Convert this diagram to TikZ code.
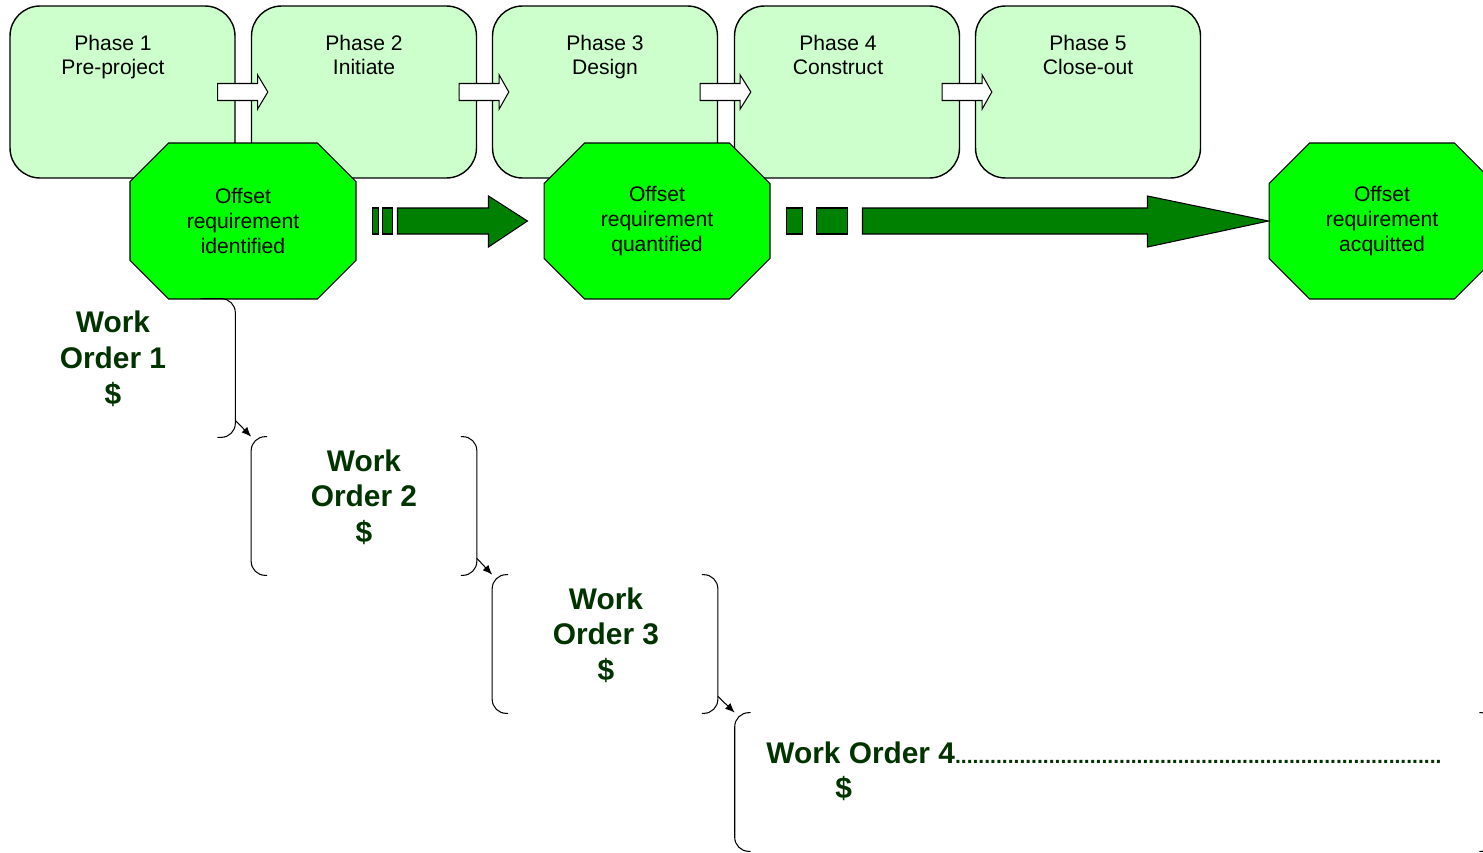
\documentclass[tikz,border=0pt]{standalone}
\usepackage{fontspec}
\setmainfont{Liberation Sans}
\usetikzlibrary{calc,positioning,shapes.misc,arrows.meta}

\definecolor{phasegreen}{HTML}{CCFFCC}
\definecolor{brightgreen}{HTML}{00FF00}
\definecolor{arrowgreen}{HTML}{008000}
\definecolor{darkgreen}{HTML}{003300}

\tikzset{
	phase/.style={draw, line width=0.8pt, fill=phasegreen, rounded corners=0.6cm, minimum width=4.5cm, minimum height=3.44cm},
	phasetext/.style={anchor=north, align=center, inner sep=0pt, font=\fontsize{12}{13.6}\selectfont},
	phasearrow/.style={draw, line width=0.6pt, fill=white},
	offset/.style={chamfered rectangle, chamfered rectangle xsep=0.9cm, draw, line width=0.6pt, fill=brightgreen, minimum width=4.52cm, minimum height=3.12cm, align=center, inner sep=0pt, font=\fontsize{12}{14}\selectfont},
	flowarrow/.style={draw, line width=0.6pt, fill=arrowgreen},
	workorder/.style={minimum width=4.5cm, minimum height=2.76cm, inner sep=0pt},
	wotext/.style={anchor=north, align=center, inner sep=0pt, text=darkgreen, font=\fontsize{17}{20.4}\selectfont\bfseries},
	bracket/.style={line width=0.6pt, rounded corners=0.28cm},
	woarrow/.style={line width=0.6pt, -{Latex[length=5.5pt,width=4.5pt]}}
}

\begin{document}
\begin{tikzpicture}[x=0.02cm,y=-0.02cm]

	% frame
	\useasboundingbox (0,0) rectangle (1483,852);
	\clip (0,0) rectangle (1483,852);

	% phases
	\node[phase] (p1) at (122.5,92) {};
	\node[phase] (p2) at (364,92) {};
	\node[phase] (p3) at (605,92) {};
	\node[phase] (p4) at (847,92) {};
	\node[phase] (p5) at (1088,92) {};

	% phase names
	\node[phasetext] (p1t) at (113,35) {Phase 1\\Pre-project};
	\node[phasetext] (p2t) at (364,35) {Phase 2\\Initiate};
	\node[phasetext] (p3t) at (605,35) {Phase 3\\Design};
	\node[phasetext] (p4t) at (838,35) {Phase 4\\Construct};
	\node[phasetext] (p5t) at (1088,35) {Phase 5\\Close-out};

	% phase arrows
	\foreach \a/\b in {p1/p2,p2/p3,p3/p4,p4/p5}
		\draw[phasearrow] ($(\a.east)+(-18,-8.5)$) -- ++(40,0) -- ++(0,-8.5) -- ($(\b.west)+(17,0)$) -- ($(\a.east)+(22,17)$) -- ++(0,-8.5) -- ++(-40,0) -- cycle;

	% offset requirement
	\node[offset] (o1) at (243,221) {Offset\\requirement\\identified};
	\node[offset] (o2) at (657,221) {Offset\\requirement\\quantified};
	\node[offset] (o3) at (1382,221) {Offset\\requirement\\acquitted};

	% flow o1 to o2
	\draw[flowarrow] ($(o1.east)+(16,-13)$) rectangle ++(6,26);
	\draw[flowarrow] ($(o1.east)+(26,-13)$) rectangle ++(10,26);
	\draw[flowarrow] ($(o1.east)+(41,-13)$) -- ($(o2.west)+(-55,-13)$) -- ++(0,-12) -- ($(o2.west)+(-16,0)$) -- ($(o2.west)+(-55,26)$) -- ++(0,-13) -- ($(o1.east)+(41,13)$) -- cycle;

	% flow o2 to o3
	\draw[flowarrow] ($(o2.east)+(16,-13)$) rectangle ++(16,26);
	\draw[flowarrow] ($(o2.east)+(46,-13)$) rectangle ++(31,26);
	\draw[flowarrow] ($(o2.east)+(92,-13)$) -- ($(o3.west)+(-121,-13)$) -- ++(0,-12) -- (o3.west) -- ($(o3.west)+(-121,26)$) -- ++(0,-13) -- ($(o2.east)+(92,13)$) -- cycle;

	% work orders
	\node[workorder] (w1) at (122.5,368) {};
	\node[workorder] (w2) at (364,506) {};
	\node[workorder] (w3) at (605,644) {};
	\node[workorder, minimum width=15.2cm] (w4) at (1115,782) {};

	% brackets
	\draw[bracket] ($(w1.north east)+(-35,0)$) -| (w1.south east) -- ++(-18,0);
	\foreach \w in {w2,w3,w4} {
		\draw[bracket] ($(\w.north west)+(16,0)$) -| (\w.south west) -- ++(16,0);
		\draw[bracket] ($(\w.north east)+(-16,0)$) -| (\w.south east) -- ++(-16,0);
	}

	% hand over
	\foreach \a/\b in {w1/w2,w2/w3,w3/w4}
		\draw[woarrow] ($(\a.south east)+(0,-17)$) -- (\b.north west);

	% work order names
	\node[wotext] (w1t) at (113,311) {Work\\Order 1\\\$};
	\node[wotext] (w2t) at (364,449) {Work\\Order 2\\\$};
	\node[wotext] (w3t) at (606,587) {Work\\Order 3\\\$};
	\node[wotext, anchor=north west, align=left] (w4t) at (766,741) {Work Order 4{\fontsize{12}{13.6}\selectfont\hbox to 9.8cm{\leaders\hbox{.}\hfill}}\\\hspace{1.38cm}\$};

\end{tikzpicture}
\end{document}
